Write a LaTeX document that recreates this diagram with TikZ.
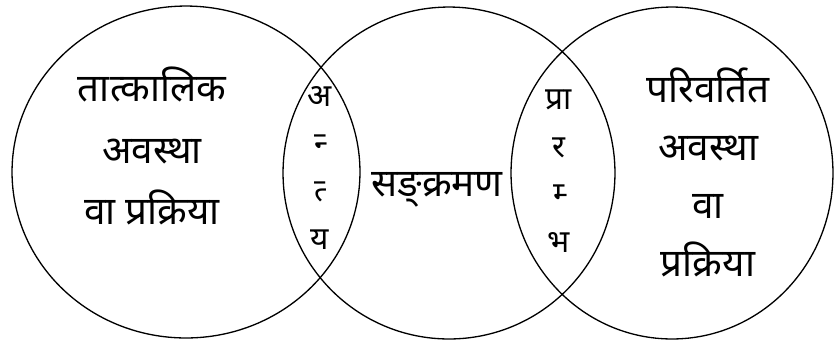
\documentclass[tikz,border=0pt]{standalone}
\usepackage{fontspec}
\newfontfamily\devfont[Script=Devanagari]{Noto Sans}
\usetikzlibrary{shapes.geometric}

\begin{document}
\begin{tikzpicture}[x=0.02cm, y=-0.02cm,
        stage/.style={draw, ellipse, line width=0.75pt, inner sep=0pt},
        maintext/.style={align=center, inner sep=0pt, font=\devfont\fontsize{22}{33}\selectfont},
        lenstext/.style={align=center, inner sep=0pt, font=\devfont\fontsize{18}{27}\selectfont}
    ]
    \useasboundingbox (0,0) rectangle (834,343);

    % --- Three stages ---
    \node[stage, minimum width=6.96cm, minimum height=6.64cm] (before) at (186,172) {};
    \node[stage, minimum width=6.64cm, minimum height=6.64cm] (trans) at (449,173) {};
    \node[stage, minimum width=6.44cm, minimum height=6.64cm] (after) at (672,173) {};

    % --- Texts ---
    \node[maintext, font=\devfont\fontsize{22}{35}\selectfont] (beforetxt) at (152,146) {तात्कालिक\\अवस्था\\वा प्रक्रिया};
    \node[maintext] (transtxt) at (437,190) {सङ्^^^^200cक्रमण};
    \node[maintext] (aftertxt) at (708,172) {परिवर्तित\\अवस्था\\वा\\प्रक्रिया};

    % --- Overlaps ---
    \node[lenstext] (endtxt) at (320,168) {अ\\न्^^^^200d\\त्^^^^200d\\य};
    \node[lenstext] (starttxt) at (559,171) {प्रा\\र\\म्^^^^200d\\भ};

\end{tikzpicture}
\end{document}
